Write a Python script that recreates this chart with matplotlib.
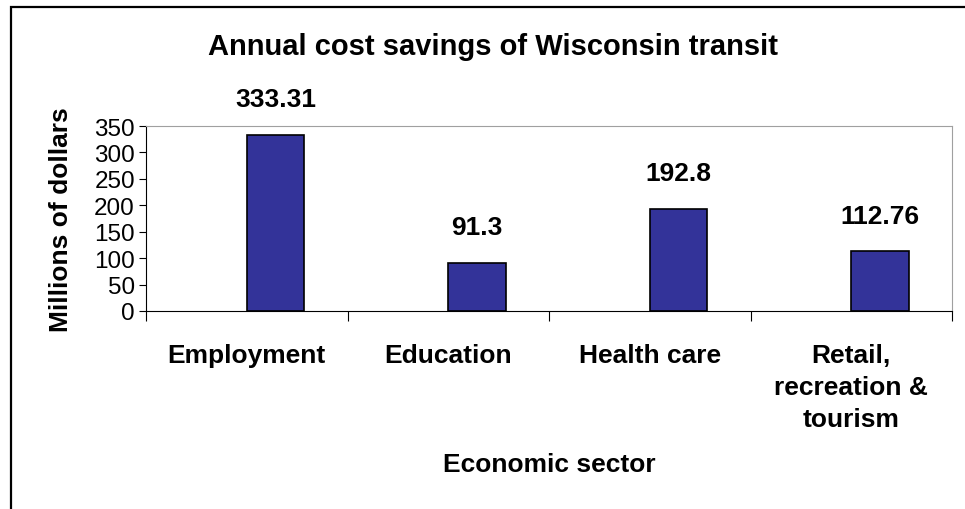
import matplotlib.pyplot as plt
from matplotlib.patches import Rectangle

plt.rcParams["font.family"] = ["Liberation Sans", "DejaVu Sans"]

sectors = ["Employment", "Education", "Health care", "Retail,\nrecreation &\ntourism"]
savings = [333.31, 91.3, 192.8, 112.76]
value_labels = ["333.31", "91.3", "192.8", "112.76"]

fig = plt.figure(figsize=(9.65, 5.1), dpi=100)
# chart frame (left and top edges visible, rest cropped)
fig.patches.append(Rectangle((11 / 965, -0.1), 1.2, 1 - 8 / 510 + 0.1, transform=fig.transFigure,
                             fill=False, edgecolor="black", linewidth=1.6))

ax = fig.add_axes([146 / 965, 1 - 312 / 510, 806 / 965, 185 / 510])
pos = [i + 0.5 for i in range(len(sectors))]
bw = 0.286
ax.bar(pos, savings, width=bw, align="edge", color="#333399", edgecolor="black", linewidth=1.2)
for x, v, lab in zip(pos, savings, value_labels):
    ax.annotate(lab, (x + bw / 2, v), xytext=(0, 17), textcoords="offset points",
                ha="center", va="bottom", fontsize=19, fontweight="bold")

ax.set_xlim(0, 4)
ax.set_ylim(0, 350)
ax.set_yticks(range(0, 351, 50))
ax.tick_params(axis="y", labelsize=17.5, length=5, direction="out", pad=3)
ax.set_xticks(range(5))
ax.set_xticklabels([])
ax.tick_params(axis="x", which="major", length=7, direction="out")
ax.set_xticks(pos, minor=True)
ax.set_xticklabels(sectors, minor=True, fontsize=19, fontweight="bold", linespacing=1.43, va="top")
ax.tick_params(axis="x", which="minor", length=0, pad=23)

for s in ["top", "right"]:
    ax.spines[s].set_color("#a0a0a0")
for s in ["left", "bottom"]:
    ax.spines[s].set_color("black")

ax.set_ylabel("Millions of dollars", fontsize=19, fontweight="bold", labelpad=15)
ax.set_xlabel("Economic sector", fontsize=19, fontweight="bold", labelpad=15)
fig.text(493 / 965, 1 - 47 / 510, "Annual cost savings of Wisconsin transit", ha="center", va="center",
         fontsize=21, fontweight="bold")

plt.savefig("out.png")
